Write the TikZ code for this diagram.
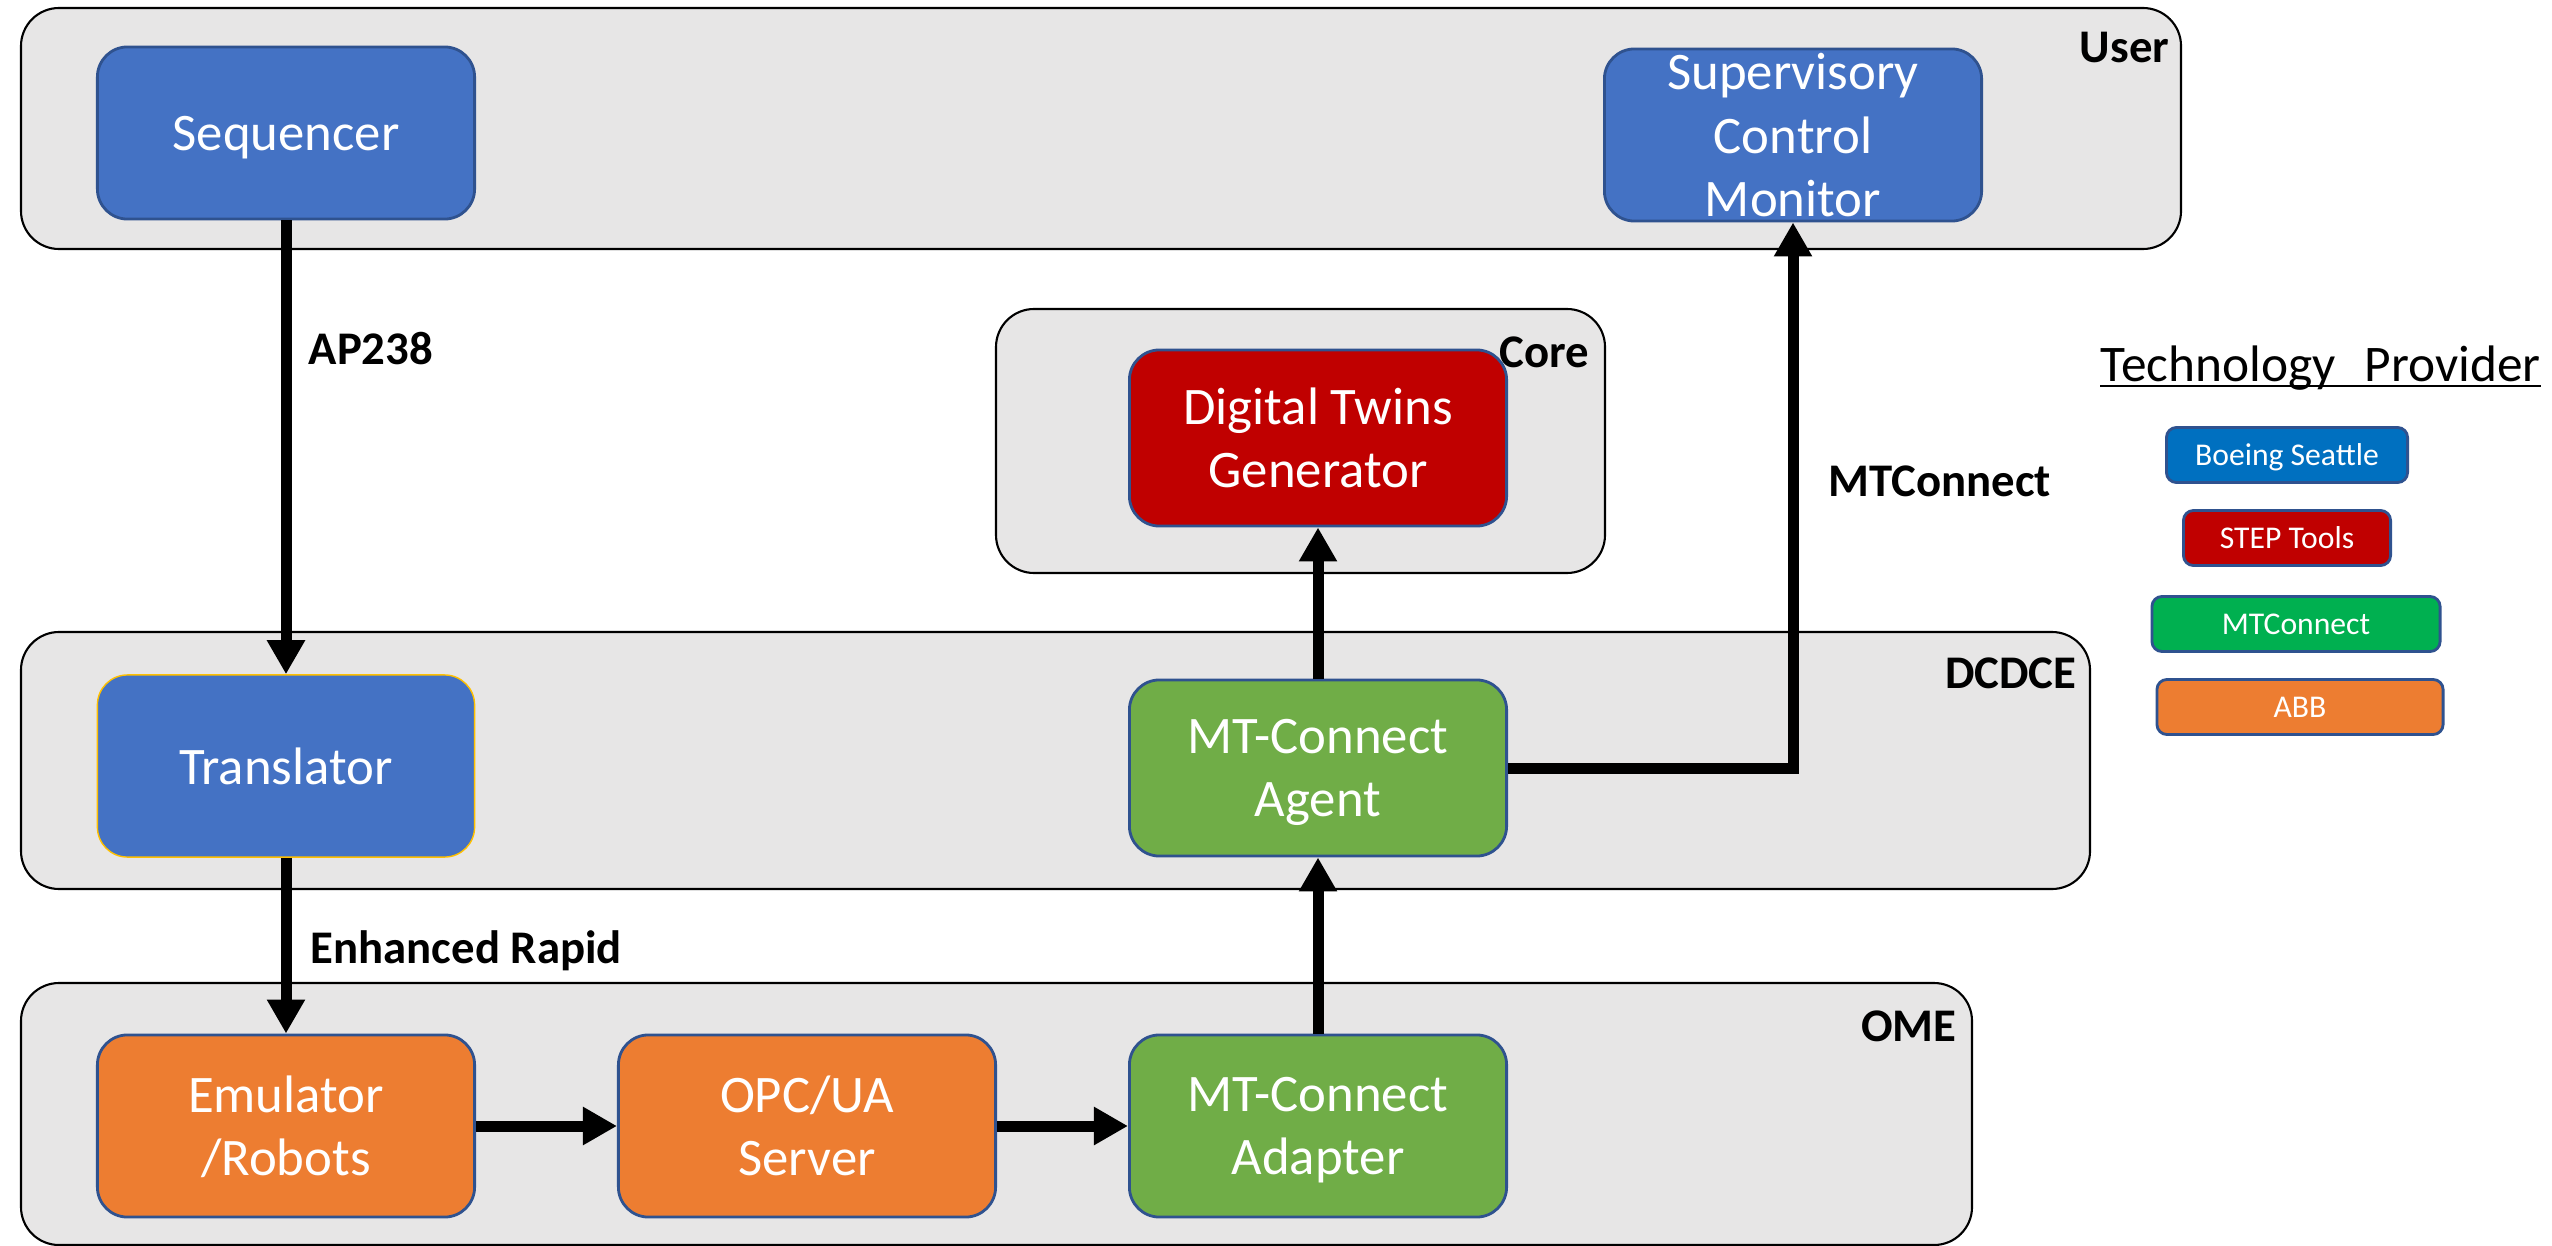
\documentclass[tikz,border=0pt]{standalone}
\usepackage{fontspec}
\setmainfont{Carlito}
\usetikzlibrary{arrows.meta}
\definecolor{layergray}{HTML}{E7E6E6}
\definecolor{unitedge}{HTML}{2F528F}
\definecolor{unitblue}{HTML}{4472C4}
\definecolor{unitred}{HTML}{C00000}
\definecolor{unitgreen}{HTML}{70AD47}
\definecolor{unitorange}{HTML}{ED7D31}
\definecolor{unitgold}{HTML}{FFC000}
\definecolor{provblue}{HTML}{0070C0}
\definecolor{provgreen}{HTML}{00B050}
\tikzset{
  layer/.style={draw=black, fill=layergray, rounded corners=0.38cm, line width=0.6pt},
  unit/.style={draw=unitedge, line width=0.8pt, rounded corners=0.3cm, text=white, align=center,
    minimum width=3.77cm, minimum height=1.76cm, inner sep=0pt, text depth=0pt,
    font=\fontsize{15}{18}\selectfont},
  tag/.style={inner sep=0pt, font=\fontsize{13.3}{16}\selectfont\bfseries},
  flow/.style={line width=0.11cm, -{Triangle[width=0.36cm,length=0.34cm]}},
  chip/.style={draw=unitedge, line width=0.8pt, rounded corners=0.1cm, text=white,
    minimum height=0.55cm, inner sep=0pt, text depth=0pt, font=\fontsize{9}{11}\selectfont}
}
\begin{document}
\begin{tikzpicture}[x=0.01cm,y=-0.01cm]
	\useasboundingbox (0,0) rectangle (2552,1246);
	% layers
	\draw[layer] (21,8) rectangle (2181,249);
	\draw[layer] (996,309) rectangle (1605,573);
	\draw[layer] (21,632) rectangle (2090,889);
	\draw[layer] (21,983) rectangle (1972,1245);
	\node[tag,anchor=base east] (user) at (2170,63) {User};
	\node[tag,anchor=base east] (core) at (1590,368) {Core};
	\node[tag,anchor=base east] (dcdce) at (2077,688) {DCDCE};
	\node[tag,anchor=base east] (ome) at (1957,1041) {OME};
	% units
	\node[unit,fill=unitblue,minimum height=1.72cm] (seq) at (286,133) {Sequencer};
	\node[unit,fill=unitblue,minimum height=1.72cm,inner ysep=-3pt] (scm) at (1793,135) {Supervisory\\Control\\Monitor};
	\node[unit,fill=unitred] (dtg) at (1318,438) {Digital Twins\\Generator};
	\node[unit,fill=unitblue,draw=unitgold,line width=0.4pt,minimum height=1.82cm] (trans) at (286,766) {Translator};
	\node[unit,fill=unitgreen] (agent) at (1318,768) {MT-Connect\\Agent};
	\node[unit,fill=unitorange,minimum height=1.82cm] (emu) at (286,1126) {Emulator\\/Robots};
	\node[unit,fill=unitorange,minimum height=1.82cm] (opc) at (807,1126) {OPC/UA\\Server};
	\node[unit,fill=unitgreen,minimum height=1.82cm] (adapter) at (1318,1126) {MT-Connect\\Adapter};
	% flows
	\draw[flow] (seq) -- (trans);
	\draw[flow] (trans) -- (emu);
	\draw[flow] (emu) -- (opc);
	\draw[flow] (opc) -- (adapter);
	\draw[flow] (adapter) -- (agent);
	\draw[flow] (agent) -- (dtg);
	\draw[flow] (agent.east) -| (scm.south);
	\node[tag,anchor=base west] (ap) at (308,365) {AP238};
	\node[tag,anchor=base west] (rapid) at (310,963) {Enhanced Rapid};
	\node[tag,anchor=base west] (mtc) at (1828,496) {MTConnect};
	% providers
	\node[anchor=base west,inner sep=0pt,font=\fontsize{14.6}{18}\selectfont] (provider) at (2100,382) {Technology\hspace{0.34em} Provider};
	\draw[line width=0.65pt] ([yshift=-1.1pt]provider.base west) -- ([yshift=-1.1pt]provider.base east);
	\node[chip,fill=provblue,minimum width=2.41cm] (boeing) at (2287,455) {Boeing Seattle};
	\node[chip,fill=unitred,minimum width=2.07cm] (steptools) at (2287,538) {STEP Tools};
	\node[chip,fill=provgreen,minimum width=2.88cm] (mtconnect) at (2296,624) {MTConnect};
	\node[chip,fill=unitorange,minimum width=2.86cm] (abb) at (2300,707) {ABB};
\end{tikzpicture}
\end{document}
